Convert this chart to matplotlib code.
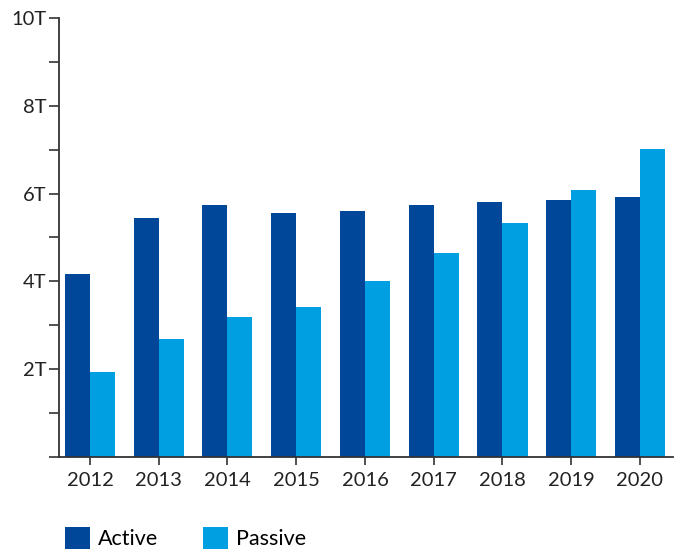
import matplotlib.pyplot as plt
import numpy as np
from matplotlib.ticker import MultipleLocator, FuncFormatter

years = ['2012', '2013', '2014', '2015', '2016', '2017', '2018', '2019', '2020']
active = [4.17, 5.45, 5.75, 5.55, 5.61, 5.73, 5.80, 5.86, 5.93]
passive = [1.93, 2.69, 3.20, 3.41, 4.00, 4.64, 5.32, 6.08, 7.02]

plt.rcParams['font.family'] = ['Lato', 'DejaVu Sans']

fig = plt.figure(figsize=(6.83, 5.51), dpi=100)
ax = fig.add_axes([59/683, 94/551, 614/683, 439/551])

x = np.arange(len(years))
w = 0.364
ax.bar(x - w/2, active, w, color='#00479a', label='Active')
ax.bar(x + w/2, passive, w, color='#009fe2', label='Passive')

ax.set_xlim(-0.45, 8.48)
ax.set_ylim(0, 10)
ax.set_xticks(x)
ax.set_xticklabels(years)
ax.yaxis.set_major_locator(MultipleLocator(2))
ax.yaxis.set_minor_locator(MultipleLocator(1))
ax.yaxis.set_major_formatter(FuncFormatter(lambda v, p: '' if v == 0 else '%dT' % v))

for s in ['top', 'right']:
    ax.spines[s].set_visible(False)
for s in ['left', 'bottom']:
    ax.spines[s].set_color('#333333')
    ax.spines[s].set_linewidth(1.3)

ax.tick_params(axis='y', which='both', length=7, width=1.2, color='#333333',
               labelsize=14.5, labelcolor='#222222', pad=2)
ax.tick_params(axis='x', length=6, width=1.2, color='#333333',
               labelsize=14.5, labelcolor='#222222', pad=5)

fig.legend(loc='lower left', bbox_to_anchor=(45.6/683, -0.032), ncol=2, frameon=False,
           fontsize=15.5, handlelength=1.16, handleheight=1.16, handletextpad=0.37,
           columnspacing=2.1)

fig.savefig('out.png', dpi=100)
